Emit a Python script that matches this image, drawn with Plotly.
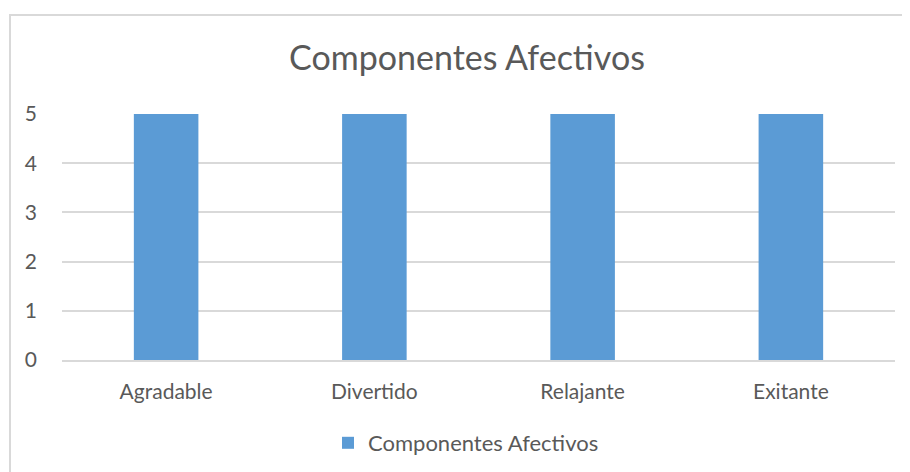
import plotly.graph_objects as go

categories = ["Agradable", "Divertido", "Relajante", "Exitante"]
values = [5, 5, 5, 5]
series_name = "Componentes Afectivos"
title_text = "Componentes Afectivos"
y_ticks = [0, 1, 2, 3, 4, 5]

OFF = 8  # page body margin offset
W, H = 910 - OFF, 472 - OFF
ml, mr, mt, mb = 62 - OFF, W - (895 - OFF), 114 - OFF, H - (360 - OFF)
pw = W - ml - mr
ph = H - mt - mb

fig = go.Figure()
fig.add_trace(go.Bar(
    x=categories, y=values, name=series_name,
    marker=dict(color="#5B9BD5", line=dict(width=0)),
    width=0.31,
))

font_family = "Lato, 'Open Sans', sans-serif"
fig.update_layout(
    width=W, height=H,
    margin=dict(l=ml, r=mr, t=mt, b=mb),
    paper_bgcolor="white", plot_bgcolor="white",
    font=dict(family=font_family, color="#595959", size=22),
    title=dict(text=title_text, x=(467 - OFF - ml) / pw, xanchor="center", xref="paper",
               y=1 - (58 - OFF) / H, yanchor="middle", yref="container",
               font=dict(size=34, color="#595959", family=font_family)),
    showlegend=True,
    legend=dict(orientation="h", x=(466 - OFF - ml) / pw, xanchor="center", xref="paper",
                y=1 - (443 - OFF) / H, yanchor="middle", yref="container",
                font=dict(size=22, color="#595959"), itemwidth=30),
    xaxis=dict(showgrid=False, showline=True, linecolor="#D9D9D9", linewidth=1.5,
               ticks="", ticklabelstandoff=12, tickfont=dict(size=21)),
    yaxis=dict(range=[0, 5], tickvals=y_ticks, showgrid=True, gridcolor="#D9D9D9",
               gridwidth=1.5, zeroline=False, showline=False, ticks="",
               ticklabelstandoff=24, tickfont=dict(size=21)),
)

fig.add_shape(type="rect", xref="paper", yref="paper",
              x0=(10 - OFF - ml) / pw, x1=(W + 20 - ml) / pw,
              y0=-(mb + 20) / ph,
              y1=1 + (mt - (15 - OFF)) / ph,
              line=dict(color="#D9D9D9", width=2), fillcolor="rgba(0,0,0,0)",
              layer="below")

fig.write_html("out.html")
